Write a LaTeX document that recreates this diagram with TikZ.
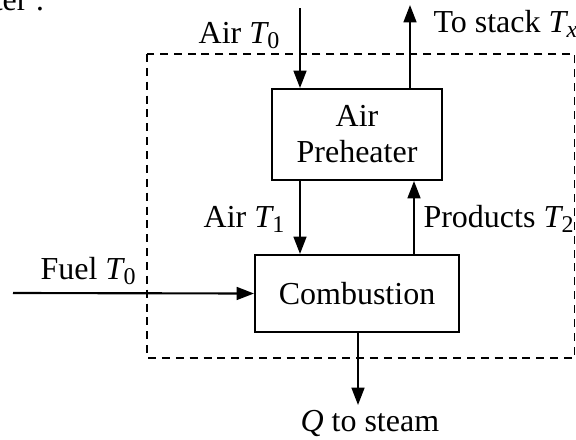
\documentclass[tikz,border=0pt]{standalone}
\usepackage{fontspec}
\setmainfont{Liberation Serif}
\usetikzlibrary{arrows.meta}

\newcommand{\tsym}[1]{\textit{T}\kern-0.05em\raisebox{-0.4ex}{\small #1}}

\tikzset{
    block/.style={draw, line width=0.75pt, text centered, font=\fontsize{12}{13.5}\selectfont},
    flow/.style={line width=0.8pt, -{Triangle[length=6.5pt, width=4.8pt]}},
    label/.style={inner sep=0pt, font=\fontsize{12}{13.5}\selectfont}
}

\begin{document}
\begin{tikzpicture}[x=0.375pt, y=-0.375pt]

        \useasboundingbox (0,0) rectangle (576,439);
        \clip (0,0) rectangle (576,439);

        % control volume
        \draw [dashed, line width=0.6pt, dash pattern=on 3pt off 2.2pt] (147,54) rectangle (574.5,358);

        \node (preheater) [block, minimum width=63.75pt, minimum height=34.1pt, align=center] at (357,134.5) {Air\\Preheater};
        \node (combustion) [block, minimum width=76.5pt, minimum height=28.9pt] at (357,293.5) {Combustion};

        \coordinate (airin) at (300,8);
        \coordinate (stack) at (410,5);
        \coordinate (fuelin) at (13,293);
        \coordinate (steam) at (358,405);

        \draw [flow] (airin) -- (airin |- preheater.north);
        \draw [flow] (stack |- preheater.north) -- (stack);
        \draw [flow] (airin |- preheater.south) -- (airin |- combustion.north);
        \draw [flow] ([xshift=1.5pt]stack |- combustion.north) -- ([xshift=1.5pt]stack |- preheater.south);
        \draw [flow] (fuelin) -- (combustion.west);
        \draw [flow] (steam |- combustion.south) -- (steam);

        \node (toptext) [label, anchor=base east] at (45,10) {heater :};
        \node (airzero) [label, anchor=base east] at (280,43) {Air \tsym{0}};
        \node (stacklabel) [label, anchor=base west] at (433,32) {To stack \tsym{\textit{x}}};
        \node (airone) [label, anchor=base east] at (285,227) {Air \tsym{1}};
        \node (products) [label, anchor=base west] at (423,227) {Products \tsym{2}};
        \node (fuel) [label, anchor=base west] at (40,279) {Fuel \tsym{0}};
        \node (qsteam) [label, anchor=base west] at (300,431) {\textit{Q} to steam};

\end{tikzpicture}
\end{document}
